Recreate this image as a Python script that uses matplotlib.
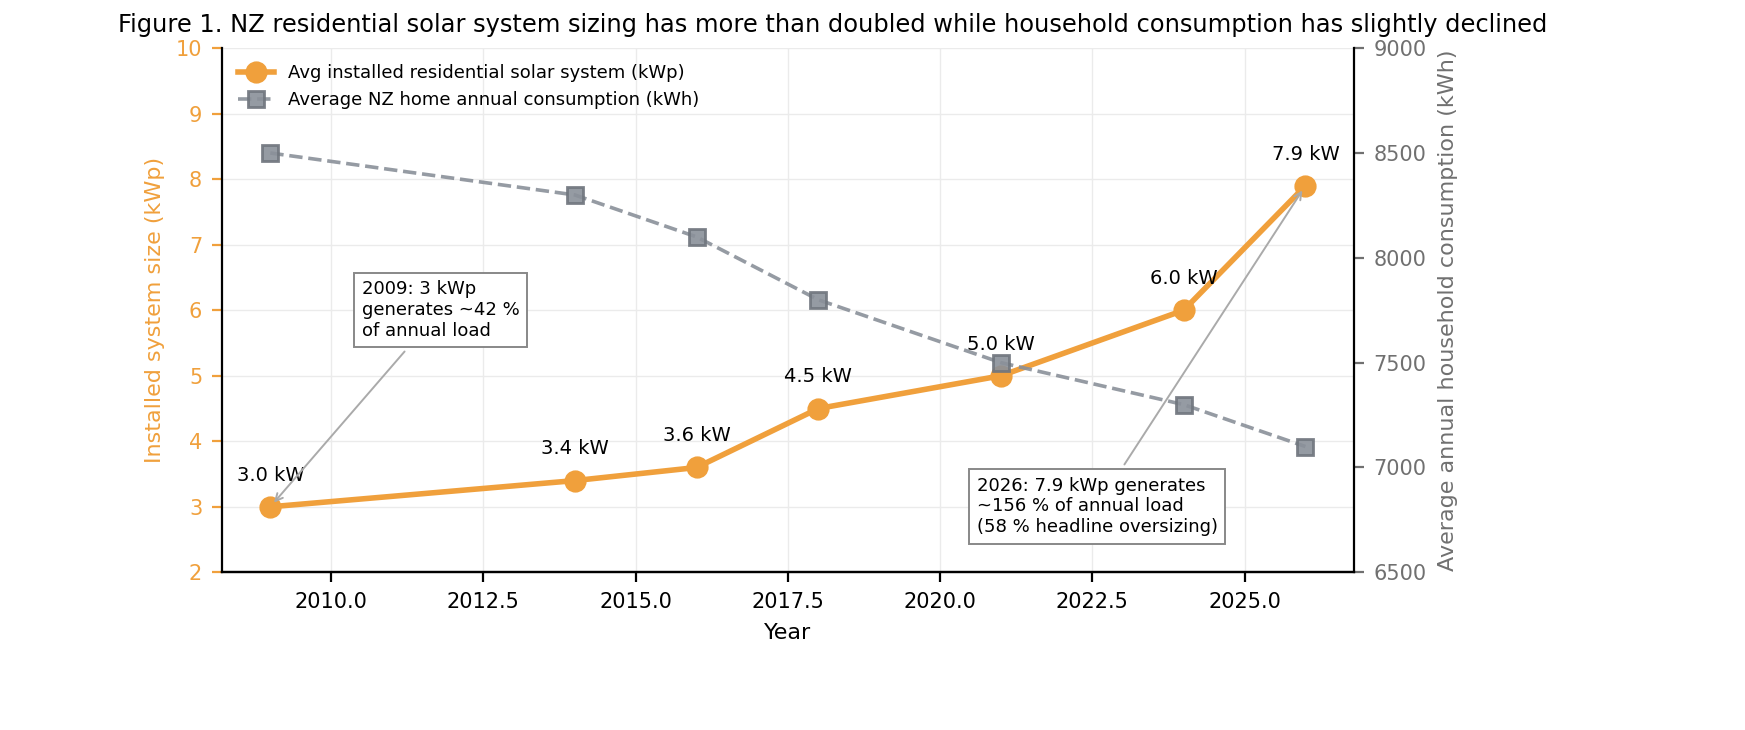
import matplotlib.pyplot as plt

years = [2009, 2014, 2016, 2018, 2021, 2024, 2026]
system_kwp = [3.0, 3.4, 3.6, 4.5, 5.0, 6.0, 7.9]
consumption_kwh = [8500, 8300, 8100, 7800, 7500, 7300, 7100]

orange = '#f0a03c'
grey = '#8a9099'

fig, ax = plt.subplots(figsize=(8.725, 3.65), dpi=200)
fig.subplots_adjust(left=0.127, right=0.776, top=0.934, bottom=0.216)

l1, = ax.plot(years, system_kwp, color=orange, lw=2.0, marker='o', ms=7,
              label='Avg installed residential solar system (kWp)', zorder=3)
ax.set_ylim(2, 10)
ax.set_xlim(2008.2, 2026.8)
ax.set_xlabel('Year', fontsize=8)
ax.set_ylabel('Installed system size (kWp)', color=orange, fontsize=8)
ax.tick_params(axis='y', colors=orange, labelsize=7.5)
ax.tick_params(axis='x', labelsize=7.5)
ax.grid(True, color='#ebebeb', lw=0.5)
ax.spines['top'].set_visible(False)
ax.spines['right'].set_visible(False)

for x, y in zip(years, system_kwp):
    ax.annotate(f'{y:.1f} kW', (x, y), xytext=(0, 8), textcoords='offset points',
                ha='center', va='bottom', fontsize=7)

ax2 = ax.twinx()
l2, = ax2.plot(years, consumption_kwh, color=grey, lw=1.3, ls='--', marker='s', ms=5.5,
               markerfacecolor='#8a9099', markeredgecolor='#6f757d', alpha=0.9,
               label='Average NZ home annual consumption (kWh)', zorder=2)
ax2.set_ylim(6500, 9000)
ax2.set_ylabel('Average annual household consumption (kWh)', color='#707070', fontsize=8)
ax2.tick_params(axis='y', colors='#707070', labelsize=7.5)
ax2.spines['top'].set_visible(False)
ax2.spines['left'].set_visible(False)

ax.legend(handles=[l1, l2], loc='upper left', frameon=False, fontsize=6.5)

box = dict(boxstyle='square,pad=0.4', fc='white', ec='#888888', lw=0.7)
arrow = dict(arrowstyle='->', color='#aaaaaa', lw=0.7)
ax.annotate('2009: 3 kWp\ngenerates ~42 %\nof annual load', xy=(2009, 3.0),
            xytext=(2010.5, 5.55), fontsize=6.5, bbox=box, arrowprops=arrow,
            ha='left', va='bottom')
ax.annotate('2026: 7.9 kWp generates\n~156 % of annual load\n(58 % headline oversizing)',
            xy=(2026, 7.9), xytext=(2020.6, 2.55), fontsize=6.5, bbox=box,
            arrowprops=arrow, ha='left', va='bottom')

ax.set_title('Figure 1. NZ residential solar system sizing has more than doubled while household consumption has slightly declined',
             fontsize=8.7, x=0.54)

fig.savefig('out.png', dpi=200)
